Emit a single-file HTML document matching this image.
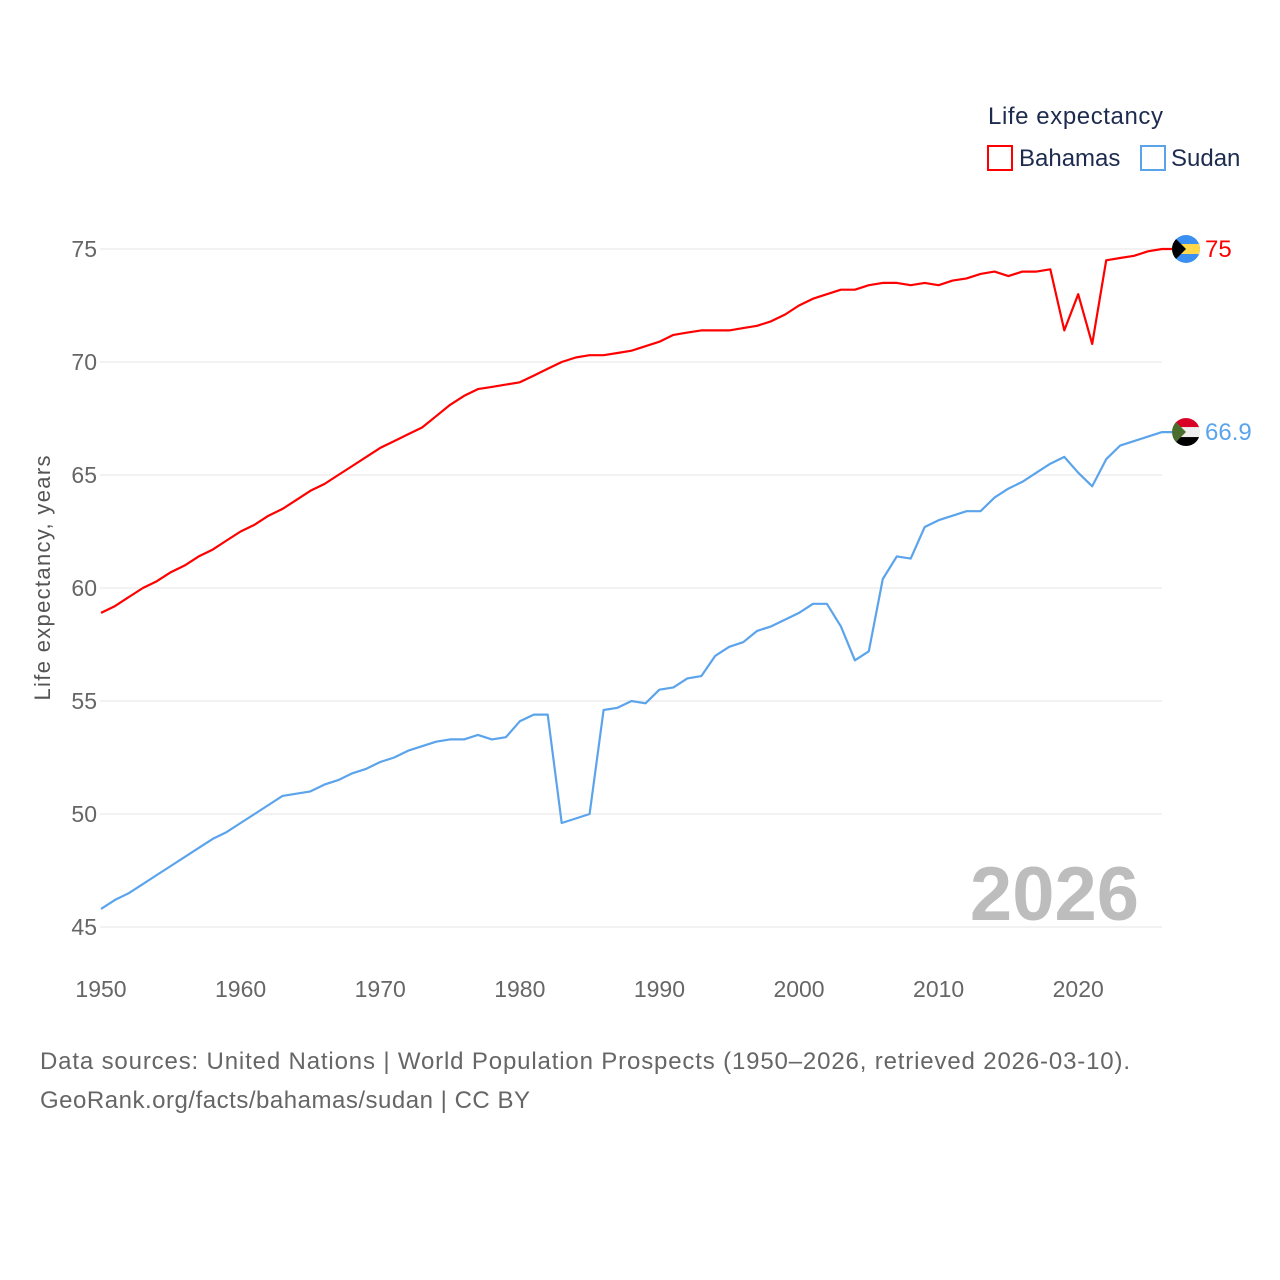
<!DOCTYPE html>
<html><head><meta charset="utf-8"><style>
html,body{margin:0;padding:0;background:#fff;}
svg{display:block;font-family:"Liberation Sans",sans-serif;}
</style></head><body>
<svg id="chart" width="1280" height="1280">
<g id="grid"></g>
<g id="yticks"></g>
<g id="xticks"></g>
<g id="series"></g>
<text x="50" y="578" transform="rotate(-90 50 578)" text-anchor="middle" font-size="22" fill="#555" textLength="245">Life expectancy, years</text>
<text x="1139" y="920" text-anchor="end" font-size="76" font-weight="bold" fill="#bdbdbd">2026</text>
<g>
<text x="988" y="124" font-size="24" fill="#1d2b4f" textLength="175">Life expectancy</text>
<g><rect x="988" y="146" width="24" height="24" fill="none" stroke="#f00" stroke-width="2"/><text x="1019" y="166" font-size="24" fill="#1d2b4f">Bahamas</text></g>
<g><rect x="1141" y="146" width="24" height="24" fill="none" stroke="#5ba4ec" stroke-width="2"/><text x="1171" y="166" font-size="24" fill="#1d2b4f">Sudan</text></g>
</g>
<text x="40" y="1069" font-size="24" fill="#666" textLength="1090">Data sources: United Nations | World Population Prospects (1950–2026, retrieved 2026-03-10).</text>
<text x="40" y="1108" font-size="24" fill="#666" textLength="490">GeoRank.org/facts/bahamas/sudan | CC BY</text>
</svg>
<script>
const years = [];
for (let y = 1950; y <= 2026; y++) years.push(y);
const bahamas = [58.9,59.2,59.6,60.0,60.3,60.7,61.0,61.4,61.7,62.1,62.5,62.8,63.2,63.5,63.9,64.3,64.6,65.0,65.4,65.8,66.2,66.5,66.8,67.1,67.6,68.1,68.5,68.8,68.9,69.0,69.1,69.4,69.7,70.0,70.2,70.3,70.3,70.4,70.5,70.7,70.9,71.2,71.3,71.4,71.4,71.4,71.5,71.6,71.8,72.1,72.5,72.8,73.0,73.2,73.2,73.4,73.5,73.5,73.4,73.5,73.4,73.6,73.7,73.9,74.0,73.8,74.0,74.0,74.1,71.4,73.0,70.8,74.5,74.6,74.7,74.9,75.0];
const sudan = [45.8,46.2,46.5,46.9,47.3,47.7,48.1,48.5,48.9,49.2,49.6,50.0,50.4,50.8,50.9,51.0,51.3,51.5,51.8,52.0,52.3,52.5,52.8,53.0,53.2,53.3,53.3,53.5,53.3,53.4,54.1,54.4,54.4,49.6,49.8,50.0,54.6,54.7,55.0,54.9,55.5,55.6,56.0,56.1,57.0,57.4,57.6,58.1,58.3,58.6,58.9,59.3,59.3,58.3,56.8,57.2,60.4,61.4,61.3,62.7,63.0,63.2,63.4,63.4,64.0,64.4,64.7,65.1,65.5,65.8,65.1,64.5,65.7,66.3,66.5,66.7,66.9];
const yTicks = [45,50,55,60,65,70,75];
const xTicks = [1950,1960,1970,1980,1990,2000,2010,2020];
const endLabels = ["75","66.9"];

const NS = "http://www.w3.org/2000/svg";
const X = v => 101 + (v - 1950) * (1162 - 101) / 76;
const Y = v => 927 - (v - 45) * 22.6;
function mk(tag, attrs, parent){const e=document.createElementNS(NS,tag);for(const k in attrs)e.setAttribute(k,attrs[k]);parent.appendChild(e);return e;}
const svg=document.getElementById('chart');
const grid=document.getElementById('grid'), yt=document.getElementById('yticks'), xt=document.getElementById('xticks'), ser=document.getElementById('series');
const defs=mk('defs',{},svg);
yTicks.forEach(t=>{
  const l=mk('line',{x1:100,x2:1162,y1:Y(t),y2:Y(t),stroke:'#e6e6e6','stroke-width':1},grid);
  
  
  const tx=mk('text',{x:97,y:Y(t)+8,'text-anchor':'end','font-size':23,fill:'#666'},yt);
  tx.textContent=t;
  
  
});
xTicks.forEach(t=>{
  const tx=mk('text',{x:X(t),y:997,'text-anchor':'middle','font-size':23,fill:'#666'},xt);
  tx.textContent=t;
  
  
});
function drawSeries(vals,color,name,label){
  const d=vals.map((v,i)=>(i?'L':'M')+X(years[i]).toFixed(1)+' '+Y(v).toFixed(1)).join(' ')+' L1172 '+Y(vals[vals.length-1]).toFixed(1);
  const p=mk('path',{d:d,fill:'none',stroke:color,'stroke-width':2.2,'stroke-linejoin':'round'},ser);
  
  
  const last=vals[vals.length-1];
  const t=mk('text',{x:1205,y:Y(last)+8,'font-size':24,fill:color},ser);
  t.textContent=label;
  
  
}
drawSeries(bahamas,'#ff0000','bahamas',endLabels[0]);
drawSeries(sudan,'#5ba4ec','sudan',endLabels[1]);
const by=Y(bahamas[bahamas.length-1]), sy=Y(sudan[sudan.length-1]);
mk('circle',{cx:1186,cy:by,r:14},mk('clipPath',{id:'cb'},defs));
mk('circle',{cx:1186,cy:sy,r:14},mk('clipPath',{id:'cs'},defs));
const fb=mk('g',{'clip-path':'url(#cb)'},ser);


mk('rect',{x:1172,y:by-14,width:28,height:28,fill:'#3a8ff0'},fb);
mk('rect',{x:1172,y:by-5,width:28,height:10,fill:'#ffd84a'},fb);
mk('path',{d:`M1172 ${by-14} L1186 ${by} L1172 ${by+14} Z`,fill:'#000'},fb);
const fs=mk('g',{'clip-path':'url(#cs)'},ser);


mk('rect',{x:1172,y:sy-14,width:28,height:28,fill:'#eee'},fs);
mk('rect',{x:1172,y:sy-14,width:28,height:9,fill:'#d80027'},fs);
mk('rect',{x:1172,y:sy+5,width:28,height:9,fill:'#000'},fs);
mk('path',{d:`M1172 ${sy-14} L1186 ${sy} L1172 ${sy+14} Z`,fill:'#496e2d'},fs);
</script>
</body></html>
